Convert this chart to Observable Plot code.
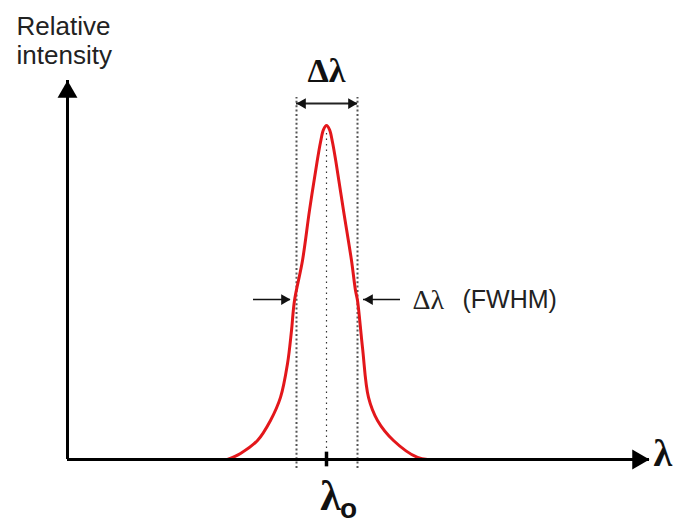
<!DOCTYPE html>
<html><head><meta charset="utf-8">
<script src="https://cdn.jsdelivr.net/npm/d3@7"></script>
<script src="https://cdn.jsdelivr.net/npm/@observablehq/plot@0.6"></script>
<style>body{margin:0;background:#fff} svg{display:block}</style>
</head><body><div id="chart"></div>
<script>
// wavelength offset from the centre wavelength (arbitrary units) and relative intensity
const offsets   = [-9.9, -8.6, -6.9, -5.6, -4.6, -3.9, -3.5, -3.2, -2.4, -1.7, -0.95, -0.6, -0.3, 0, 0.3, 0.6, 0.95, 1.7, 2.5, 2.9, 3.1, 3.6, 4.2, 5.1, 6.7, 9.1, 10.1];
const intensity = [0, 0.018, 0.057, 0.117, 0.186, 0.287, 0.386, 0.476, 0.596, 0.746, 0.89, 0.95, 0.988, 1, 0.988, 0.95, 0.89, 0.746, 0.596, 0.506, 0.476, 0.335, 0.186, 0.117, 0.057, 0.006, 0];
const fwhmEdges = [-3.0, 3.1];     // half-maximum crossing points
const centre = [0];                // lambda_0
const xDomain = [-25.9, 32.3];
const yDomain = [0, 1.135];
const fwhmLevel = 0.479;           // level of the FWHM pointer arrows
const topArrowLevel = 1.066;       // level of the top Δλ arrow
const dottedTop = 1.084, dottedBottom = -0.027;
const leftPointer = [-7.3, -3.6], rightPointer = [7.4, 3.7];

const curve = offsets.map((x, i) => ({x, y: intensity[i]}));

const serif = "Liberation Serif, DejaVu Serif, serif";
const sans = "Liberation Sans, Arial, sans-serif";

const chart = Plot.plot({
  width: 684, height: 524,
  marginLeft: 67, marginRight: 35, marginTop: 80, marginBottom: 65,
  x: {domain: xDomain, axis: null},
  y: {domain: yDomain, axis: null},
  style: {background: "#fff"},
  marks: [
    // dotted guide lines
    Plot.ruleX(fwhmEdges, {y1: dottedBottom, y2: dottedTop, stroke: "#555", strokeWidth: 2, strokeDasharray: "2,2.4"}),
    Plot.ruleX(centre, {y1: 0, y2: 0.985, stroke: "#333", strokeWidth: 1.2, strokeDasharray: "1.5,4"}),
    // spectral line
    Plot.line(curve, {x: "x", y: "y", stroke: "#e3171b", strokeWidth: 3, curve: "catmull-rom"}),
    // axes
    Plot.ruleX([xDomain[0]], {stroke: "#000", strokeWidth: 3}),
    Plot.ruleY([0], {stroke: "#000", strokeWidth: 3}),
    Plot.dot([{x: xDomain[0], y: yDomain[1]}], {x: "x", y: "y", symbol: "triangle", r: 7.4, fill: "#000", stroke: "none", dy: 11.5}),
    Plot.dot([{x: xDomain[1], y: 0}], {x: "x", y: "y", symbol: "triangle", r: 7.4, fill: "#000", stroke: "none", rotate: 90, dx: -11.5}),
    // centre tick
    Plot.ruleX(centre, {y1: -0.022, y2: 0.022, stroke: "#000", strokeWidth: 3.5}),
    // top Δλ double arrow
    Plot.ruleY([topArrowLevel], {x1: fwhmEdges[0], x2: fwhmEdges[1], stroke: "#222", strokeWidth: 2}),
    Plot.dot([{x: fwhmEdges[0], y: topArrowLevel}], {x: "x", y: "y", symbol: "triangle", r: 4, fill: "#111", stroke: "none", rotate: -90, dx: 6.2}),
    Plot.dot([{x: fwhmEdges[1], y: topArrowLevel}], {x: "x", y: "y", symbol: "triangle", r: 4, fill: "#111", stroke: "none", rotate: 90, dx: -6.2}),
    // FWHM pointers
    Plot.ruleY([fwhmLevel], {x1: leftPointer[0], x2: leftPointer[1], stroke: "#111", strokeWidth: 1.5}),
    Plot.ruleY([fwhmLevel], {x1: rightPointer[0], x2: rightPointer[1], stroke: "#111", strokeWidth: 1.5}),
    Plot.dot([{x: leftPointer[1], y: fwhmLevel}], {x: "x", y: "y", symbol: "triangle", r: 4, fill: "#111", stroke: "none", rotate: 90, dx: -6.2}),
    Plot.dot([{x: rightPointer[1], y: fwhmLevel}], {x: "x", y: "y", symbol: "triangle", r: 4, fill: "#111", stroke: "none", rotate: -90, dx: 6.2}),
    // texts
    Plot.text(["Relative\nintensity"], {x: xDomain[0], y: yDomain[1], text: d => d, textAnchor: "start", lineAnchor: "top", lineHeight: 1.08, dx: -51, dy: -65, fontSize: 26, fontFamily: sans, fill: "#222"}),
    Plot.text(["Δλ"], {x: 0, y: yDomain[1], text: d => d, dy: -9, fontSize: 34, fontWeight: "bold", fontFamily: serif, fill: "#111"}),
    Plot.text(["Δλ"], {x: rightPointer[0], y: fwhmLevel, text: d => d, textAnchor: "start", dx: 12, fontSize: 28, fontFamily: serif, fill: "#222"}),
    Plot.text(["(FWHM)"], {x: rightPointer[0], y: fwhmLevel, text: d => d, textAnchor: "start", dx: 62, fontSize: 25, fontFamily: sans, fill: "#222"}),
    Plot.text(["λ"], {x: xDomain[1], y: 0, text: d => d, textAnchor: "start", dx: 4, dy: -6, fontSize: 38, fontWeight: "bold", fontFamily: serif, fill: "#111"}),
    Plot.text(["λ"], {x: 0, y: 0, text: d => d, dx: 4, dy: 37, fontSize: 42, fontWeight: "bold", fontFamily: serif, fill: "#111"}),
    Plot.text(["o"], {x: 0, y: 0, text: d => d, dx: 22, dy: 50, fontSize: 28, fontFamily: sans, fontWeight: "bold", fill: "#111"})
  ]
});
document.getElementById("chart").append(chart);
</script></body></html>
